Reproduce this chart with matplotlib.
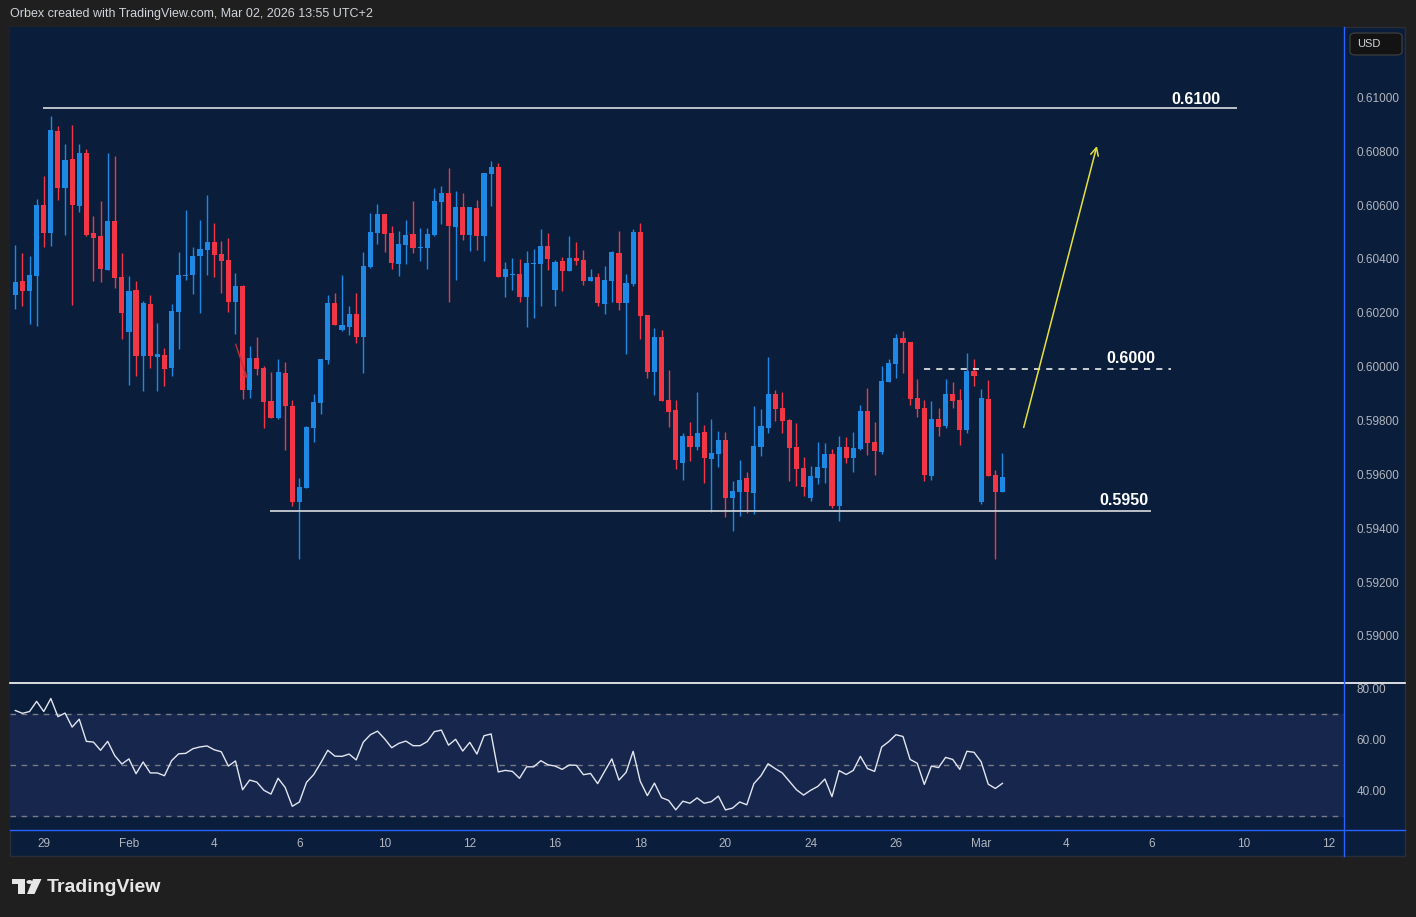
import matplotlib
matplotlib.use('Agg')
import matplotlib.pyplot as plt
from matplotlib.patches import Rectangle, FancyBboxPatch, Polygon, Circle
from matplotlib.lines import Line2D
import numpy as np

plt.rcParams['font.family'] = ['Liberation Sans', 'DejaVu Sans']

# 4H candles, AUDUSD-like
opens = [0.60266, 0.60318, 0.60281, 0.60337, 0.60600, 0.60496, 0.60875, 0.60663, 0.60771, 0.60596,
         0.60793, 0.60496, 0.60485, 0.60359, 0.60541, 0.60333, 0.60129, 0.60285, 0.60040, 0.60233,
         0.60036, 0.60043, 0.59995, 0.60203, 0.60337, 0.60340, 0.60411, 0.60433, 0.60463, 0.60418,
         0.60396, 0.60240, 0.60299, 0.59913, 0.60032, 0.59995, 0.59872, 0.59809, 0.59976, 0.59854,
         0.59497, 0.59549, 0.59772, 0.59865, 0.60025, 0.60236, 0.60136, 0.60147, 0.60195, 0.60110,
         0.60370, 0.60496, 0.60567, 0.60496, 0.60381, 0.60452, 0.60492, 0.60441, 0.60441, 0.60489,
         0.60611, 0.60645, 0.60518, 0.60593, 0.60489, 0.60589, 0.60485, 0.60715, 0.60741, 0.60333,
         0.60340, 0.60344, 0.60259, 0.60381, 0.60381, 0.60448, 0.60285, 0.60392, 0.60355, 0.60403,
         0.60396, 0.60318, 0.60333, 0.60233, 0.60318, 0.60422, 0.60236, 0.60307, 0.60500, 0.60192,
         0.59980, 0.60110, 0.59876, 0.59839, 0.59642, 0.59742, 0.59702, 0.59757, 0.59657, 0.59676,
         0.59728, 0.59512, 0.59535, 0.59587, 0.59531, 0.59702, 0.59772, 0.59898, 0.59846, 0.59802,
         0.59702, 0.59624, 0.59512, 0.59587, 0.59624, 0.59676, 0.59483, 0.59702, 0.59661, 0.59694,
         0.59835, 0.59720, 0.59683, 0.59943, 0.60010, 0.60106, 0.60092, 0.59884, 0.59846, 0.59594,
         0.59806, 0.59780, 0.59898, 0.59876, 0.59765, 0.59984, 0.59497, 0.59880, 0.59598, 0.59535]
closes = [0.60314, 0.60281, 0.60340, 0.60600, 0.60496, 0.60879, 0.60663, 0.60767, 0.60600, 0.60793,
          0.60489, 0.60478, 0.60363, 0.60541, 0.60329, 0.60199, 0.60281, 0.60040, 0.60236, 0.60040,
          0.60047, 0.59991, 0.60207, 0.60340, 0.60340, 0.60411, 0.60437, 0.60463, 0.60415, 0.60392,
          0.60240, 0.60299, 0.59913, 0.60032, 0.59991, 0.59869, 0.59809, 0.59980, 0.59854, 0.59497,
          0.59553, 0.59776, 0.59869, 0.60028, 0.60236, 0.60155, 0.60155, 0.60195, 0.60110, 0.60374,
          0.60500, 0.60567, 0.60492, 0.60385, 0.60455, 0.60489, 0.60441, 0.60444, 0.60492, 0.60615,
          0.60645, 0.60522, 0.60593, 0.60489, 0.60593, 0.60485, 0.60719, 0.60741, 0.60333, 0.60363,
          0.60344, 0.60259, 0.60385, 0.60385, 0.60448, 0.60400, 0.60389, 0.60355, 0.60403, 0.60392,
          0.60318, 0.60333, 0.60236, 0.60322, 0.60426, 0.60236, 0.60311, 0.60500, 0.60188, 0.59980,
          0.60110, 0.59872, 0.59832, 0.59653, 0.59742, 0.59702, 0.59754, 0.59661, 0.59679, 0.59728,
          0.59512, 0.59538, 0.59579, 0.59535, 0.59705, 0.59780, 0.59898, 0.59843, 0.59798, 0.59698,
          0.59620, 0.59553, 0.59594, 0.59627, 0.59676, 0.59483, 0.59702, 0.59661, 0.59698, 0.59835,
          0.59716, 0.59687, 0.59947, 0.60014, 0.60106, 0.60088, 0.59880, 0.59843, 0.59598, 0.59806,
          0.59776, 0.59898, 0.59872, 0.59765, 0.59984, 0.59965, 0.59884, 0.59594, 0.59535, 0.59590]
highs = [0.60452, 0.60422, 0.60411, 0.60622, 0.60708, 0.60931, 0.60893, 0.60827, 0.60897, 0.60827,
         0.60808, 0.60559, 0.60615, 0.60793, 0.60782, 0.60422, 0.60337, 0.60318, 0.60244, 0.60266,
         0.60162, 0.60069, 0.60233, 0.60426, 0.60582, 0.60444, 0.60544, 0.60637, 0.60533, 0.60467,
         0.60478, 0.60348, 0.60303, 0.60077, 0.60110, 0.60002, 0.59980, 0.60028, 0.60017, 0.59876,
         0.59587, 0.59780, 0.59898, 0.60028, 0.60266, 0.60273, 0.60340, 0.60225, 0.60273, 0.60426,
         0.60571, 0.60604, 0.60567, 0.60522, 0.60504, 0.60544, 0.60615, 0.60515, 0.60515, 0.60663,
         0.60671, 0.60738, 0.60652, 0.60645, 0.60593, 0.60619, 0.60719, 0.60764, 0.60756, 0.60389,
         0.60403, 0.60400, 0.60429, 0.60437, 0.60511, 0.60496, 0.60396, 0.60407, 0.60485, 0.60463,
         0.60433, 0.60363, 0.60348, 0.60374, 0.60429, 0.60504, 0.60344, 0.60511, 0.60533, 0.60192,
         0.60143, 0.60136, 0.59988, 0.59876, 0.59754, 0.59794, 0.59906, 0.59783, 0.59806, 0.59761,
         0.59757, 0.59575, 0.59653, 0.59609, 0.59854, 0.59843, 0.60036, 0.59913, 0.59906, 0.59806,
         0.59791, 0.59665, 0.59631, 0.59720, 0.59717, 0.59694, 0.59742, 0.59739, 0.59757, 0.59858,
         0.59921, 0.59794, 0.60002, 0.60028, 0.60121, 0.60132, 0.60092, 0.59954, 0.59876, 0.59872,
         0.59846, 0.59954, 0.59943, 0.59917, 0.60051, 0.60028, 0.59917, 0.59950, 0.59616, 0.59679]
lows = [0.60214, 0.60225, 0.60158, 0.60151, 0.60444, 0.60448, 0.60619, 0.60489, 0.60229, 0.60574,
        0.60485, 0.60318, 0.60314, 0.60359, 0.60292, 0.60103, 0.59932, 0.59965, 0.59910, 0.59995,
        0.59910, 0.59928, 0.59965, 0.60066, 0.60322, 0.60270, 0.60199, 0.60340, 0.60333, 0.60273,
        0.60203, 0.60121, 0.59880, 0.59884, 0.59969, 0.59772, 0.59809, 0.59806, 0.59690, 0.59483,
        0.59286, 0.59549, 0.59720, 0.59824, 0.60010, 0.60155, 0.60132, 0.60117, 0.60088, 0.59976,
        0.60366, 0.60455, 0.60426, 0.60363, 0.60337, 0.60381, 0.60422, 0.60392, 0.60363, 0.60485,
        0.60530, 0.60240, 0.60322, 0.60470, 0.60429, 0.60433, 0.60392, 0.60596, 0.60333, 0.60259,
        0.60285, 0.60240, 0.60147, 0.60181, 0.60225, 0.60359, 0.60225, 0.60281, 0.60355, 0.60377,
        0.60303, 0.60318, 0.60225, 0.60195, 0.60240, 0.60210, 0.60047, 0.60299, 0.60103, 0.59958,
        0.59895, 0.59872, 0.59776, 0.59620, 0.59579, 0.59650, 0.59690, 0.59568, 0.59460, 0.59627,
        0.59442, 0.59390, 0.59445, 0.59457, 0.59453, 0.59668, 0.59754, 0.59798, 0.59754, 0.59575,
        0.59557, 0.59520, 0.59501, 0.59564, 0.59568, 0.59475, 0.59427, 0.59642, 0.59609, 0.59690,
        0.59672, 0.59598, 0.59676, 0.59943, 0.59958, 0.59976, 0.59858, 0.59813, 0.59575, 0.59579,
        0.59742, 0.59772, 0.59846, 0.59709, 0.59754, 0.59928, 0.59490, 0.59594, 0.59286, 0.59535]

rsi = [71.4, 70.3, 71.0, 75.0, 71.0, 76.1, 69.0, 70.4, 64.9, 68.0,
       59.3, 59.0, 55.8, 59.3, 53.7, 50.4, 52.4, 46.6, 51.2, 46.9,
       46.9, 45.8, 51.7, 54.4, 54.6, 56.4, 57.1, 57.5, 56.0, 55.2,
       49.6, 51.6, 40.3, 44.1, 43.3, 40.1, 38.6, 44.8, 41.2, 33.8,
       35.5, 43.2, 46.2, 50.8, 55.8, 53.5, 53.4, 54.3, 52.0, 59.0,
       61.9, 63.3, 60.3, 56.8, 58.5, 59.4, 57.6, 57.6, 59.2, 63.1,
       63.7, 57.8, 60.1, 55.5, 58.9, 54.3, 61.5, 62.2, 47.3, 47.9,
       47.5, 44.8, 49.3, 49.3, 51.7, 50.1, 49.6, 48.3, 50.0, 49.9,
       46.2, 46.7, 42.7, 47.6, 52.4, 44.1, 47.1, 55.4, 43.6, 38.0,
       42.9, 37.2, 36.1, 32.4, 35.8, 35.0, 37.1, 35.0, 35.6, 37.8,
       32.4, 33.1, 35.5, 34.4, 42.7, 45.8, 50.5, 48.6, 46.9, 43.6,
       40.3, 38.2, 40.1, 41.6, 44.5, 37.6, 47.8, 46.3, 47.9, 53.4,
       48.6, 47.5, 57.1, 59.2, 61.9, 61.2, 52.2, 50.7, 42.4, 49.6,
       49.0, 53.0, 52.2, 48.3, 55.4, 55.0, 51.3, 42.5, 40.8, 42.8]

# date labels (bar index where each label sits)
date_pos = [4, 16, 28, 40, 52, 64, 76, 88, 100, 112, 124, 136, 148, 160, 173, 185]
date_labels = ['29', 'Feb', '4', '6', '10', '12', '16', '18', '20', '24', '26', 'Mar', '4', '6', '10', '12']
price_ticks = [0.590, 0.592, 0.594, 0.596, 0.598, 0.600, 0.602, 0.604, 0.606, 0.608, 0.610]

BG = '#1f1f1f'
NAVY = '#0a1e3b'
UP = '#1e88e5'
DOWN = '#f23645'
TXT = '#b2b5be'

W, H = 1416, 917
def fx(px):
    return px / W
def fy(py):
    return 1 - py / H

fig = plt.figure(figsize=(14.16, 9.17), dpi=100, facecolor=BG)
fig.patches.append(Rectangle((fx(10), fy(856)), fx(1405) - fx(10), fy(27) - fy(856),
                             transform=fig.transFigure, facecolor=NAVY, edgecolor='#2a2e39', zorder=-5))

# ---- price pane
ax = fig.add_axes([fx(10), fy(683), fx(1344) - fx(10), fy(27) - fy(683)])
ax.set_facecolor(NAVY)
for s in ax.spines.values():
    s.set_visible(False)

x = np.arange(len(opens))
o = np.array(opens); c = np.array(closes)
cols = [UP if cc >= oo else DOWN for oo, cc in zip(o, c)]
ax.vlines(x, lows, highs, colors=cols, lw=1, zorder=2)
body_h = np.maximum(np.abs(c - o), 0.00003)
ax.bar(x, body_h, bottom=np.minimum(o, c), width=0.72, color=cols, zorder=3)

ax.set_xlim(-0.75, 187.1)
ax.set_ylim(0.58825, 0.61261)
ax.set_xticks([])
ax.yaxis.tick_right()
ax.set_yticks(price_ticks)
ax.set_yticklabels([f'{t:.5f}' for t in price_ticks])
ax.tick_params(axis='y', length=0, pad=9, labelcolor=TXT, labelsize=8.5)

# drawings
ax.hlines(0.60960, 3.9, 172.0, color='#c9ccd3', lw=1.3, zorder=4)
ax.text(166.2, 0.60965, '0.6100', ha='center', va='bottom', color='white',
        fontweight='bold', fontsize=11.5, zorder=5)
ax.hlines(0.59991, 128.0, 162.8, color='white', lw=1.1, linestyles=(0, (4, 4)), zorder=4)
ax.text(157.1, 0.60004, '0.6000', ha='center', va='bottom', color='white',
        fontweight='bold', fontsize=11.5, zorder=5)
ax.hlines(0.59464, 35.9, 159.9, color='#c9ccd3', lw=1.3, zorder=4)
ax.text(156.1, 0.59476, '0.5950', ha='center', va='bottom', color='white',
        fontweight='bold', fontsize=11.5, zorder=5)
ax.annotate('', xy=(152.4, 0.60829), xytext=(141.9, 0.59764),
            arrowprops=dict(arrowstyle='->', color='#e6e03c', lw=1.1, mutation_scale=14), zorder=5)
ax.annotate('', xy=(32.8, 0.59944), xytext=(30.9, 0.60093),
            arrowprops=dict(arrowstyle='->', color='#b8323c', lw=1, mutation_scale=8), zorder=5)

# ---- RSI pane
ax2 = fig.add_axes([fx(10), fy(830), fx(1344) - fx(10), fy(683) - fy(830)])
ax2.set_facecolor(NAVY)
for s in ax2.spines.values():
    s.set_visible(False)
ax2.axhspan(30, 70, color='#16264d', zorder=0)
for lvl in (70, 50, 30):
    ax2.axhline(lvl, color='#787b86', lw=1, linestyle=(0, (4, 4)), zorder=1)
ax2.plot(x, rsi, color='#e3e6ee', lw=1, zorder=3)
ax2.set_xlim(-0.75, 187.1)
ax2.set_ylim(24.5, 82.2)
ax2.yaxis.tick_right()
ax2.set_yticks([40, 60, 80])
ax2.set_yticklabels(['40.00', '60.00', '80.00'])
ax2.tick_params(axis='y', length=0, pad=9, labelcolor=TXT, labelsize=8.5)
ax2.set_xticks(date_pos)
ax2.set_xticklabels(date_labels)
ax2.tick_params(axis='x', length=0, pad=6, labelcolor=TXT, labelsize=8.5)

# ---- frame lines
fig.add_artist(Line2D([fx(10), fx(1405)], [fy(683), fy(683)], color='white', lw=1.2))
fig.add_artist(Line2D([fx(1344), fx(1344)], [fy(27), fy(856)], color='#2962ff', lw=1))
fig.add_artist(Line2D([fx(10), fx(1405)], [fy(830), fy(830)], color='#2962ff', lw=1))

# USD box
fig.patches.append(FancyBboxPatch((fx(1350), fy(55)), fx(1402) - fx(1350), fy(33) - fy(55),
                                  boxstyle='round,pad=0,rounding_size=0.004', transform=fig.transFigure,
                                  facecolor='#131313', edgecolor='#3a3a3a', lw=1, zorder=5))
fig.text(fx(1357), fy(44), 'USD', color='#d1d4dc', fontsize=8, va='center', ha='left', zorder=6)

# header
fig.text(fx(10), fy(14), 'Orbex created with TradingView.com, Mar 02, 2026 13:55 UTC+2',
         color='#d1d4dc', fontsize=9, va='center', ha='left')

# TradingView logo
logo = '#e6e6e6'
fig.patches.append(Polygon([(fx(12), fy(879)), (fx(24.5), fy(879)), (fx(24.5), fy(894)),
                            (fx(18), fy(894)), (fx(18), fy(884)), (fx(12), fy(884))],
                           closed=True, transform=fig.transFigure, facecolor=logo, edgecolor='none'))
fig.patches.append(Circle((fx(29.5), fy(882)), 3 / W, transform=fig.transFigure,
                          facecolor=logo, edgecolor='none'))
fig.patches.append(Polygon([(fx(33), fy(879)), (fx(41.5), fy(879)), (fx(34.5), fy(894)), (fx(27), fy(894))],
                           closed=True, transform=fig.transFigure, facecolor=logo, edgecolor='none'))
fig.text(fx(47), fy(887), 'TradingView', color=logo, fontsize=14, fontweight='bold', va='center', ha='left')

fig.savefig('out.png', dpi=100, facecolor=BG)
